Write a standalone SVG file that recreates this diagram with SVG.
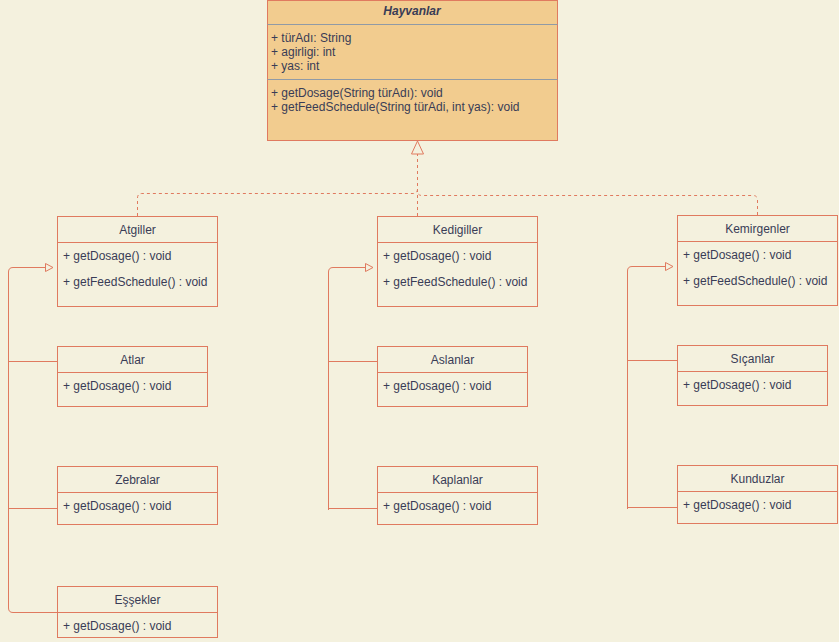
<svg xmlns="http://www.w3.org/2000/svg" width="839" height="642" viewBox="0 0 839 642">
<style>
.box{fill:none;stroke:#E07A5F;stroke-width:1}
.main{fill:#F2CC8F;stroke:#E07A5F;stroke-width:1}
.sep{stroke:#E07A5F;stroke-width:1}
.gsep{stroke:#909AA6;stroke-width:1}
text{font-family:"Liberation Sans",Arial,Helvetica,sans-serif;font-size:12px;fill:#393C56}
.t{text-anchor:middle}
.b{font-weight:bold;font-style:italic}
.edge{fill:none;stroke:#E07A5F;stroke-width:1}
.dash{stroke-dasharray:3,3}
.tri{fill:#F4F1DE;stroke:#E07A5F;stroke-width:1}
</style>
<rect width="839" height="642" fill="#F4F1DE"/>
<g id="connectors">
<path class="edge dash" d="M137.5,216 V198 Q137.5,193.5 142,193.5 H413 Q417.5,193.5 417.5,189"/>
<path class="edge dash" d="M757.5,215 V200 Q757.5,195.5 753,195.5 H422 Q417.5,195.5 417.5,191"/>
<path class="edge dash" d="M417.5,216 V154"/>
<polygon class="tri" points="417.5,141 411.5,154 423.5,154"/>
<path class="edge" d="M57,612.5 H13 Q8.5,612.5 8.5,608 V272 Q8.5,267.5 13,267.5 H45"/>
<path class="edge" d="M57,361.5 H8.5"/>
<path class="edge" d="M57,508.5 H8.5"/>
<polygon class="tri" points="45.5,263.5 45.5,271.5 53,267.5"/>
<path class="edge" d="M377,508.5 H328.5 V272 Q328.5,267.5 333,267.5 H365"/>
<path class="edge" d="M377,361.5 H328.5"/>
<path class="edge" d="M328.5,508 V510"/>
<polygon class="tri" points="365.5,263.5 365.5,271.5 373,267.5"/>
<path class="edge" d="M677,507.5 H627.5 V271 Q627.5,266.5 632,266.5 H665"/>
<path class="edge" d="M677,360.5 H627.5"/>
<path class="edge" d="M627.5,507 V509"/>
<polygon class="tri" points="665.5,262.5 665.5,270.5 673,266.5"/>
</g>
<g id="Hayvanlar">
<rect class="main" x="267.5" y="0.5" width="290" height="140"/>
<line class="gsep" x1="267.5" y1="24.5" x2="557.5" y2="24.5"/>
<line class="gsep" x1="267.5" y1="79.5" x2="557.5" y2="79.5"/>
<text class="t b" x="412" y="15">Hayvanlar</text>
<text x="271" y="42">+ türAdı: String</text>
<text x="271" y="56">+ agirligi: int</text>
<text x="271" y="70">+ yas: int</text>
<text x="271" y="97">+ getDosage(String türAdı): void</text>
<text x="271" y="111">+ getFeedSchedule(String türAdi, int yas): void</text>
</g>
<g id="Atgiller">
<rect class="box" x="57.5" y="216.5" width="160" height="90"/>
<line class="sep" x1="57.5" y1="242.5" x2="217.5" y2="242.5"/>
<text class="t" x="137.5" y="234">Atgiller</text>
<text x="63" y="260">+ getDosage() : void</text>
<text x="63" y="286">+ getFeedSchedule() : void</text>
</g>
<g id="Kedigiller">
<rect class="box" x="377.5" y="216.5" width="160" height="90"/>
<line class="sep" x1="377.5" y1="242.5" x2="537.5" y2="242.5"/>
<text class="t" x="457.5" y="234">Kedigiller</text>
<text x="383" y="260">+ getDosage() : void</text>
<text x="383" y="286">+ getFeedSchedule() : void</text>
</g>
<g id="Kemirgenler">
<rect class="box" x="677.5" y="215.5" width="160" height="90"/>
<line class="sep" x1="677.5" y1="241.5" x2="837.5" y2="241.5"/>
<text class="t" x="757.5" y="233">Kemirgenler</text>
<text x="683" y="259">+ getDosage() : void</text>
<text x="683" y="285">+ getFeedSchedule() : void</text>
</g>
<g id="Atlar">
<rect class="box" x="57.5" y="346.5" width="150" height="60"/>
<line class="sep" x1="57.5" y1="372.5" x2="207.5" y2="372.5"/>
<text class="t" x="132.5" y="364">Atlar</text>
<text x="63" y="390">+ getDosage() : void</text>
</g>
<g id="Zebralar">
<rect class="box" x="57.5" y="466.5" width="160" height="58"/>
<line class="sep" x1="57.5" y1="492.5" x2="217.5" y2="492.5"/>
<text class="t" x="137.5" y="484">Zebralar</text>
<text x="63" y="510">+ getDosage() : void</text>
</g>
<g id="Essekler">
<rect class="box" x="57.5" y="586.5" width="160" height="51"/>
<line class="sep" x1="57.5" y1="612.5" x2="217.5" y2="612.5"/>
<text class="t" x="137.5" y="604">Eşşekler</text>
<text x="63" y="630">+ getDosage() : void</text>
</g>
<g id="Aslanlar">
<rect class="box" x="377.5" y="346.5" width="150" height="60"/>
<line class="sep" x1="377.5" y1="372.5" x2="527.5" y2="372.5"/>
<text class="t" x="452.5" y="364">Aslanlar</text>
<text x="383" y="390">+ getDosage() : void</text>
</g>
<g id="Kaplanlar">
<rect class="box" x="377.5" y="466.5" width="160" height="58"/>
<line class="sep" x1="377.5" y1="492.5" x2="537.5" y2="492.5"/>
<text class="t" x="457.5" y="484">Kaplanlar</text>
<text x="383" y="510">+ getDosage() : void</text>
</g>
<g id="Sicanlar">
<rect class="box" x="677.5" y="345.5" width="150" height="60"/>
<line class="sep" x1="677.5" y1="371.5" x2="827.5" y2="371.5"/>
<text class="t" x="752.5" y="363">Sıçanlar</text>
<text x="683" y="389">+ getDosage() : void</text>
</g>
<g id="Kunduzlar">
<rect class="box" x="677.5" y="465.5" width="160" height="58"/>
<line class="sep" x1="677.5" y1="491.5" x2="837.5" y2="491.5"/>
<text class="t" x="757.5" y="483">Kunduzlar</text>
<text x="683" y="509">+ getDosage() : void</text>
</g>
</svg>
